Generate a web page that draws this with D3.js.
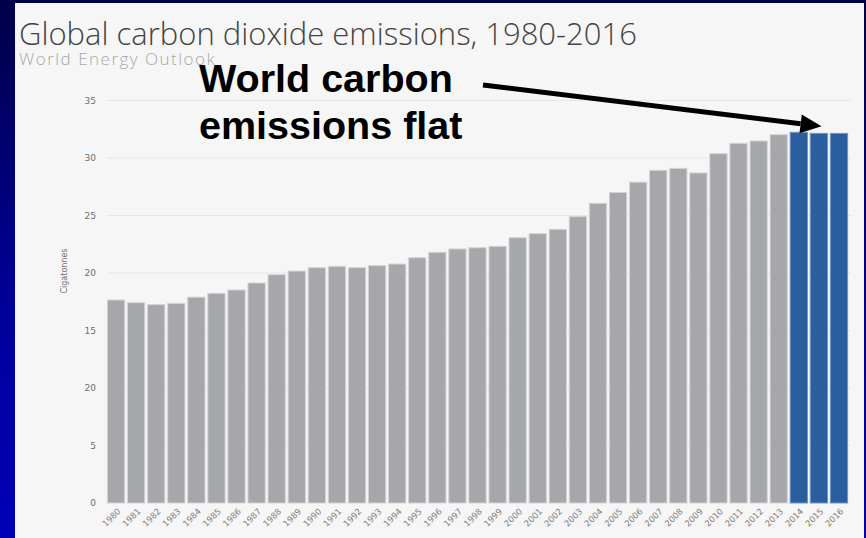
<!DOCTYPE html>
<html>
<head>
<meta charset="utf-8">
<script src="https://cdn.jsdelivr.net/npm/d3@7"></script>
<style>
  html, body { margin: 0; padding: 0; background: #000060; }
  svg { display: block; }
</style>
</head>
<body>
<svg id="chart" width="866" height="538"></svg>
<script>
// Emissions by year, gigatonnes CO2
const years = d3.range(1980, 2017).map(String);
const emissions = [
  17.65, 17.42, 17.25, 17.36, 17.9, 18.23, 18.52, 19.13, 19.85, 20.17,
  20.46, 20.58, 20.46, 20.64, 20.78, 21.33, 21.8, 22.09, 22.2, 22.32,
  23.07, 23.42, 23.8, 24.9, 26.06, 27.0, 27.9, 28.93, 29.1, 28.7,
  30.38, 31.28, 31.48, 32.03, 32.23, 32.14, 32.14
];
const highlightYears = ["2014", "2015", "2016"];
const yTickValues = [0, 5, 10, 15, 20, 25, 30, 35];
const yTickLabels = ["0", "5", "20", "15", "20", "25", "30", "35"];

const title = "Global carbon dioxide emissions, 1980-2016";
const subtitle = "World Energy Outlook";
const yLabel = "Cigatonnes";
const callout = ["World carbon", "emissions flat"];

const svg = d3.select("#chart");
const W = 866, H = 538;

// Slide background
const defs = svg.append("defs");
const bg = defs.append("linearGradient").attr("id", "bg")
  .attr("x1", 0).attr("y1", 0).attr("x2", 0).attr("y2", 1);
bg.append("stop").attr("offset", "0%").attr("stop-color", "#000048");
bg.append("stop").attr("offset", "55%").attr("stop-color", "#000098");
bg.append("stop").attr("offset", "100%").attr("stop-color", "#0000b8");
svg.append("rect").attr("width", W).attr("height", H).attr("fill", "url(#bg)");

// Chart panel
svg.append("rect").attr("x", 15).attr("y", 3).attr("width", 849).attr("height", 540)
  .attr("fill", "#f6f6f6");

const plot = { left: 107, right: 848, top: 100.5, bottom: 503 };

const x = d3.scaleBand().domain(years).range([plot.left, plot.right])
  .paddingInner(0.14).paddingOuter(0.02);
const y = d3.scaleLinear().domain([0, 35]).range([plot.bottom, plot.top]);

// Gridlines
svg.append("g").selectAll("line").data(yTickValues.filter(d => d > 0)).join("line")
  .attr("x1", plot.left).attr("x2", plot.right + 3)
  .attr("y1", d => y(d)).attr("y2", d => y(d))
  .attr("stroke", "#e7e7e7").attr("stroke-width", 1);

// Y axis
const yAxis = d3.axisLeft(y).tickValues(yTickValues)
  .tickFormat((d, i) => yTickLabels[i]).tickSize(0).tickPadding(0);
const yg = svg.append("g").attr("transform", `translate(${plot.left - 11},0)`).call(yAxis);
yg.select(".domain").remove();
yg.selectAll("text").attr("fill", "#6e6e6e")
  .style("font-family", "'DejaVu Sans', sans-serif").style("font-size", "9px");

svg.append("text")
  .attr("transform", `translate(67,${y(20) - 2}) rotate(-90)`)
  .attr("text-anchor", "middle")
  .attr("fill", "#6e6e6e")
  .style("font-family", "'DejaVu Sans', sans-serif").style("font-size", "8px")
  .text(yLabel);

// Bars
svg.append("g").selectAll("rect").data(years).join("rect")
  .attr("x", d => x(d))
  .attr("width", x.bandwidth())
  .attr("y", (d, i) => y(emissions[i]))
  .attr("height", (d, i) => y(0) - y(emissions[i]))
  .attr("fill", d => highlightYears.includes(d) ? "#2b5e9f" : "#a6a7ab")
  .attr("stroke", d => highlightYears.includes(d) ? "#7294c6" : "#d4d4d6")
  .attr("stroke-width", 1);

// X axis labels, slanted
const xAxis = d3.axisBottom(x).tickSize(0).tickPadding(0);
const xg = svg.append("g").attr("transform", `translate(0,${plot.bottom + 8})`).call(xAxis);
xg.select(".domain").remove();
xg.selectAll("text")
  .attr("x", 3).attr("y", 0).attr("dy", "0.5em")
  .attr("text-anchor", "end")
  .attr("transform", "rotate(-45)")
  .attr("fill", "#808080")
  .style("font-family", "'DejaVu Sans', sans-serif").style("font-size", "8.5px");

// Title block
svg.append("text").attr("x", 19).attr("y", 45)
  .attr("fill", "#444")
  .style("font-family", "'Open Sans', sans-serif").style("font-weight", 300)
  .style("font-size", "31px")
  .text(title);
svg.append("text").attr("x", 19).attr("y", 65)
  .attr("fill", "#a8a8a8")
  .style("font-family", "'Open Sans', sans-serif").style("font-weight", 300)
  .style("font-size", "17px").style("letter-spacing", "1.5px")
  .text(subtitle);

// Callout
svg.append("g").selectAll("text").data(callout).join("text")
  .attr("x", 199).attr("y", (d, i) => 92 + i * 46.5)
  .attr("fill", "#000")
  .style("font-family", "'Liberation Sans', Arial, sans-serif").style("font-weight", 700)
  .style("font-size", "39.5px")
  .text(d => d);

// Arrow pointing at the flat years
const tipX = x(highlightYears[1]) + x.bandwidth() * 0.65;
const tipY = y(emissions[years.indexOf(highlightYears[0])]) - 6;
const startX = 483, startY = 85;
const ang = Math.atan2(tipY - startY, tipX - startX);
const headLen = 21, headHalf = 9.5;
const bx = tipX - headLen * Math.cos(ang), by = tipY - headLen * Math.sin(ang);
svg.append("line")
  .attr("x1", startX).attr("y1", startY).attr("x2", bx).attr("y2", by)
  .attr("stroke", "#000").attr("stroke-width", 5);
svg.append("path")
  .attr("d", d3.line()([
    [tipX, tipY],
    [bx + headHalf * Math.sin(ang), by - headHalf * Math.cos(ang)],
    [bx - headHalf * Math.sin(ang), by + headHalf * Math.cos(ang)]
  ]) + "Z")
  .attr("fill", "#000");
</script>
</body>
</html>
